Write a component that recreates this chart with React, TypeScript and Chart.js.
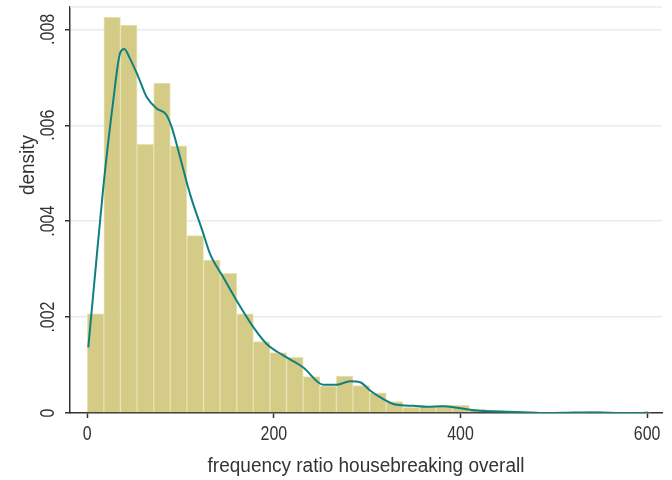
import { useEffect, useRef } from "react";
import { Chart, registerables } from "chart.js";

Chart.register(...registerables);

// ---- data ----
const binCenters = [
  8.9, 26.7, 44.5, 62.3, 80.1, 97.9, 115.7, 133.5, 151.3, 169.1, 186.9, 204.7,
  222.5, 240.3, 258.1, 275.9, 293.7, 311.5, 329.3, 347.1, 364.9, 382.7, 400.5,
  418.3, 436.1, 453.9, 471.7, 489.5, 507.3, 525.1, 542.9, 560.7, 578.5, 596.3,
];
const binDensity = [
  0.00207, 0.00825, 0.00809, 0.0056, 0.00688, 0.00557, 0.0037, 0.00319, 0.00291,
  0.00207, 0.00149, 0.00126, 0.00116, 0.00076, 0.00056, 0.00077, 0.00057,
  0.00042, 0.00024, 0.00012, 0.00015, 0.00016, 0.00016, 0.00008, 0.00005,
  0.00003, 0.00002, 0.00001, 0.00001, 0.00002, 0.00003, 0.00001, 0, 0.00002,
];
const kdeX = [
  1.1, 8.4, 17.2, 27.9, 35.1, 39.7, 45.8, 54.7, 63.7, 74.4, 84.4, 90.5, 99.4,
  110.1, 124.4, 131.6, 145.8, 160.2, 178.0, 192.3, 210.1, 231.6, 253.0, 267.4,
  281.7, 292.4, 303.1, 313.8, 331.7, 349.5, 363.9, 381.7, 396.1, 417.5, 442.5,
  474.7, 496, 522.9, 549.7, 571, 592.6, 601,
];
const kdeY = [
  0.00137, 0.0029, 0.00471, 0.00652, 0.0075, 0.00759, 0.00739, 0.00701, 0.00659,
  0.00635, 0.00623, 0.00596, 0.00534, 0.00457, 0.00374, 0.00332, 0.00283,
  0.00234, 0.00179, 0.00144, 0.0012, 0.00095, 0.00059, 0.00059, 0.00066,
  0.00064, 0.00047, 0.00033, 0.00017, 0.00015, 0.00013, 0.00014, 0.00011,
  0.00005, 0.00003, 0.00001, 0.0, 0.00001, 0.00001, 0.0, 0.0, 0.00001,
];
const xTicks = [0, 200, 400, 600];
const yTicks = [0, 0.002, 0.004, 0.006, 0.008];
const xTitle = "frequency ratio housebreaking overall";
const yTitle = "density";

const FONT = '"Liberation Sans", Arimo, Arial, sans-serif';
const TEXT = "#333333";
const AXIS = "#333333";
const GRID = "#e3ecf2";

const fmtY = (v: number) => (v === 0 ? "0" : v.toFixed(3).replace(/^0/, ""));

function drawText(
  ctx: CanvasRenderingContext2D,
  text: string,
  x: number,
  y: number,
  size: number,
  sx: number,
  rot = 0
) {
  ctx.save();
  ctx.translate(x, y);
  if (rot) ctx.rotate(rot);
  ctx.scale(sx, 1);
  ctx.font = `${size}px ${FONT}`;
  ctx.fillStyle = TEXT;
  ctx.textAlign = "center";
  ctx.textBaseline = "middle";
  ctx.fillText(text, 0, 0);
  ctx.restore();
}

const textPlugin = {
  id: "stataText",
  beforeDatasetsDraw(chart: any) {
    const { ctx, chartArea } = chart;
    ctx.save();
    ctx.strokeStyle = GRID;
    ctx.lineWidth = 1.5;
    ctx.beginPath();
    ctx.moveTo(chartArea.left, chartArea.top);
    ctx.lineTo(chartArea.right, chartArea.top);
    ctx.stroke();
    ctx.restore();
  },
  afterDraw(chart: any) {
    const { ctx, chartArea } = chart;
    const ys = chart.scales.y;
    const xs = chart.scales.x;
    for (const v of yTicks) {
      drawText(ctx, fmtY(v), chartArea.left - 22, ys.getPixelForValue(v), 21, 0.76, -Math.PI / 2);
    }
    for (const v of xTicks) {
      drawText(ctx, String(v), xs.getPixelForValue(v), chartArea.bottom + 21, 21, 0.76);
    }
    drawText(ctx, yTitle, chartArea.left - 42, 165, 20, 0.95, -Math.PI / 2);
    drawText(ctx, xTitle, (chartArea.left + chartArea.right) / 2, 466, 20, 0.95);
  },
};

export default function App() {
  const ref = useRef<HTMLCanvasElement>(null);
  useEffect(() => {
    const prev = document.body.style.margin;
    document.body.style.margin = "0";
    const chart = new Chart(ref.current!, {
      type: "bar",
      data: {
        datasets: [
          {
            type: "line",
            label: "kdensity",
            data: kdeX.map((x, i) => ({ x, y: kdeY[i] })),
            borderColor: "#10807f",
            borderWidth: 2,
            pointRadius: 0,
            cubicInterpolationMode: "monotone",
            order: 0,
          } as any,
          {
            type: "bar",
            label: "histogram",
            data: binCenters.map((x, i) => ({ x, y: binDensity[i] })),
            backgroundColor: "#d4cb86",
            borderColor: "#e8e2b2",
            borderWidth: 1,
            barPercentage: 1,
            categoryPercentage: 1,
            grouped: false,
            order: 1,
          } as any,
        ],
      },
      options: {
        animation: false,
        responsive: false,
        events: [],
        layout: { padding: { top: 7, right: 10, left: 0, bottom: 0 } },
        plugins: {
          legend: { display: false },
          tooltip: { enabled: false },
        },
        scales: {
          x: {
            type: "linear",
            min: -18.5,
            max: 616,
            offset: false,
            afterBuildTicks: (s: any) => {
              s.ticks = xTicks.map((v) => ({ value: v }));
            },
            afterFit: (s: any) => {
              s.height = 67;
            },
            border: { display: true, color: AXIS, width: 1.5 },
            grid: {
              offset: false,
              drawOnChartArea: false,
              drawTicks: true,
              tickLength: 5,
              tickColor: AXIS,
              tickWidth: 1.5,
            },
            ticks: { display: false },
          },
          y: {
            type: "linear",
            min: 0,
            max: 0.008466,
            afterBuildTicks: (s: any) => {
              s.ticks = yTicks.map((v) => ({ value: v }));
            },
            afterFit: (s: any) => {
              s.width = 70;
            },
            border: { display: true, color: AXIS, width: 1.5 },
            grid: {
              color: (c: any) =>
                c.tick && c.tick.value === 0 ? "rgba(0,0,0,0)" : GRID,
              lineWidth: 1.5,
              drawTicks: true,
              tickLength: 5,
              tickColor: AXIS,
              tickWidth: 1.5,
            },
            ticks: { display: false },
          },
        },
      },
      plugins: [textPlugin],
    });
    return () => {
      chart.destroy();
      document.body.style.margin = prev;
    };
  }, []);
  return (
    <div style={{ width: 672, height: 480 }}>
      <canvas ref={ref} width={672} height={480} style={{ width: 672, height: 480, display: "block" }} />
    </div>
  );
}
